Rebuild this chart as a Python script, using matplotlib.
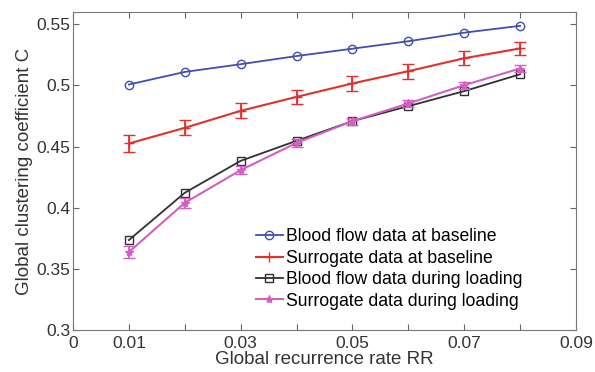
import numpy as np
import matplotlib.pyplot as plt

plt.rcParams['font.family'] = ['Liberation Sans', 'DejaVu Sans']

rr = [0.01, 0.02, 0.03, 0.04, 0.05, 0.06, 0.07, 0.08]
blood_base = [0.5007, 0.511, 0.5173, 0.524, 0.530, 0.5361, 0.5431, 0.5487]
surr_base = [0.4525, 0.4653, 0.4792, 0.4906, 0.5016, 0.5116, 0.5222, 0.5302]
surr_base_err = [0.0068, 0.0062, 0.0062, 0.0060, 0.0060, 0.0060, 0.0058, 0.0056]
blood_load = [0.3735, 0.4122, 0.4383, 0.4547, 0.4708, 0.483, 0.4953, 0.5091]
surr_load = [0.3637, 0.404, 0.4307, 0.453, 0.4708, 0.4852, 0.5002, 0.5138]
surr_load_err = [0.0048, 0.0040, 0.0035, 0.0030, 0.0028, 0.0028, 0.0028, 0.0028]

fig = plt.figure(figsize=(5.95, 3.72), dpi=100)
ax = fig.add_axes([73 / 595, 1 - 330 / 372, 503 / 595, 318 / 372])

blue, red, black, pink = '#3f4fae', '#e2302c', '#303030', '#d35fc2'

l1, = ax.plot(rr, blood_base, '-o', color=blue, mfc='none', ms=6, lw=1.3,
              label='Blood flow data at baseline')
ax.errorbar(rr, surr_base, yerr=surr_base_err, fmt='none', ecolor=red,
            elinewidth=1.3, capsize=4)
l2, = ax.plot(rr, surr_base, '-+', color=red, ms=7, lw=1.5,
              label='Surrogate data at baseline')
l3, = ax.plot(rr, blood_load, '-s', color=black, mfc='none', ms=6, lw=1.3,
              label='Blood flow data during loading')
ax.errorbar(rr, surr_load, yerr=surr_load_err, fmt='none', ecolor=pink,
            elinewidth=1.3, capsize=4)
l4, = ax.plot(rr, surr_load, '-*', color=pink, ms=6, lw=1.5,
              label='Surrogate data during loading')

ax.set_xlim(0, 0.09)
ax.set_ylim(0.3, 0.56)
ax.set_xticks(np.arange(0, 0.0901, 0.01))
ax.set_xticklabels(['0', '0.01', '', '0.03', '', '0.05', '', '0.07', '', '0.09'])
ax.set_yticks([0.3, 0.35, 0.4, 0.45, 0.5, 0.55])
ax.set_yticklabels(['0.3', '0.35', '0.4', '0.45', '0.5', '0.55'])
ax.tick_params(direction='in', top=True, right=True, labelsize=12.5, length=4,
               color='#666666', labelcolor='#333333')
ax.tick_params(axis='x', pad=4)
ax.tick_params(axis='y', pad=2)
for s in ax.spines.values():
    s.set_color('#777777')

ax.set_xlabel('Global recurrence rate RR', fontsize=13.5, color='#333333', labelpad=0)
ax.set_ylabel('Global clustering coefficient C', fontsize=13.5, color='#333333', labelpad=2)

ax.legend(handles=[l1, l2, l3, l4], loc='lower right', frameon=False,
          fontsize=12.7, handlelength=1.5, handletextpad=0.2, labelspacing=0.25,
          borderaxespad=0.4, bbox_to_anchor=(0.922, 0.02))

fig.savefig('out.png', dpi=100)
